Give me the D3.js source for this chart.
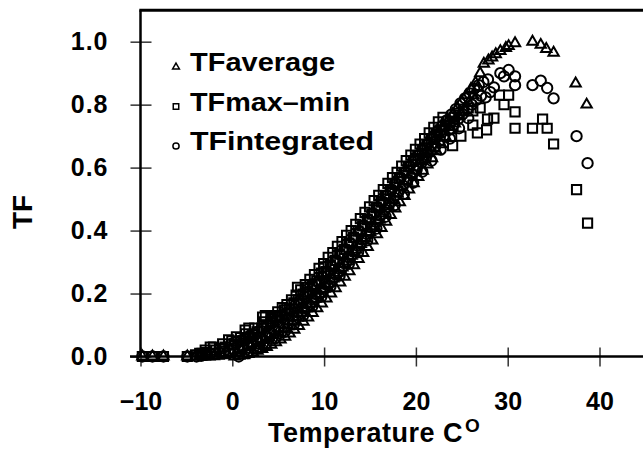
<!DOCTYPE html>
<html>
<head>
<meta charset="utf-8">
<script src="https://cdn.jsdelivr.net/npm/d3@7"></script>
<style>
  body { margin: 0; background: #fff; }
  svg { display: block; font-family: "Liberation Sans", Arial, Helvetica, sans-serif; font-weight: bold; }
</style>
</head>
<body>
<svg id="chart" width="643" height="449"></svg>
<script>
// readings as [temperature, TF]
const tfAverage = [
  [-9.8,0],[-8.7,0],[-7.5,0],[-4.9,0],
  [-4.0,0],[-3.5,0],[-3.0,0],[-2.5,0],[-2.0,0.001],[-1.5,0.002],[-1.0,0.004],[-0.5,0.006],
  [0.0,0.01],[0.5,0.013],[1.0,0.018],[1.5,0.022],[2.0,0.03],[2.5,0.036],[3.0,0.044],[3.5,0.052],
  [4.0,0.06],[4.5,0.068],[5.0,0.078],[5.5,0.088],[6.0,0.1],[6.5,0.112],[7.0,0.125],[7.5,0.139],
  [8.0,0.153],[8.5,0.168],[9.0,0.183],[9.5,0.199],[10.0,0.215],[10.5,0.232],[11.0,0.248],[11.5,0.266],
  [12.0,0.283],[12.5,0.302],[13.0,0.32],[13.5,0.339],[14.0,0.357],[14.5,0.376],[15.0,0.395],[15.5,0.414],
  [16.0,0.434],[16.5,0.455],[17.0,0.476],[17.5,0.496],[18.0,0.517],[18.5,0.537],[19.0,0.558],[19.5,0.578],
  [20.0,0.6],[20.5,0.621],[21.0,0.643],[21.5,0.664],[22.0,0.686],[22.5,0.707],[23.0,0.728],[23.5,0.749],
  [24.0,0.77],[24.5,0.79],[25.0,0.81],[25.5,0.83],[26.0,0.85],[26.5,0.87],[27.0,0.9],[27.4,0.93],
  [27.9,0.94],[28.3,0.95],[28.7,0.96],[29.2,0.97],[29.8,0.98],[30.1,0.986],[30.8,0.995],
  [32.7,1.0],[33.6,0.99],[34.2,0.977],[35.0,0.965],[37.4,0.867],[38.6,0.80],
  [0.25,0],[0.75,0.002],[1.25,0.004],[1.75,0.008],[2.25,0.012],[2.75,0.018],[3.25,0.024],[3.75,0.03],
  [4.25,0.037],[4.75,0.045],[5.25,0.054],[5.75,0.063],[6.25,0.073],[6.75,0.085],[7.25,0.097],[7.75,0.11],
  [8.25,0.124],[8.75,0.138],[9.25,0.153],[9.75,0.168],[10.25,0.184],[10.75,0.2],[11.25,0.217],[11.75,0.235],
  [12.25,0.253],[12.75,0.271],[13.25,0.29],[13.75,0.31],[14.25,0.329],[14.75,0.348],[15.25,0.368],[15.75,0.388],
  [16.25,0.408],[16.75,0.428],[17.25,0.449],[17.75,0.47],[18.25,0.49],[18.75,0.51],[19.25,0.53],[19.75,0.55],
  [20.25,0.57],[20.75,0.59],[21.25,0.61],[21.75,0.63],[22.25,0.652],[22.75,0.674],[23.25,0.696],[23.75,0.718],
  [24.25,0.74],[24.75,0.762],[25.25,0.784],[25.75,0.806],[26.25,0.83],[26.75,0.855]
];

const tfMaxMin = [
  [-9.8,0],[-8.7,0],[-7.5,0],[-4.9,0],
  [-4.0,0.005],[-3.3,0.01],[-2.8,0.012],[-2.4,0.03],[-1.8,0.02],[-1.3,0.025],[-0.8,0.03],[-0.4,0.053],
  [0.2,0.038],[0.9,0.06],[1.2,0.05],[1.4,0.084],[1.7,0.058],[1.8,0.09],[2.2,0.068],[2.7,0.078],
  [3.2,0.09],[3.3,0.125],[3.6,0.13],[3.7,0.1],[4.2,0.112],[4.2,0.12],[4.7,0.125],[4.9,0.125],
  [5.2,0.13],[5.7,0.148],[6.2,0.15],[6.7,0.17],[7.1,0.22],[7.2,0.18],[7.7,0.198],[8.2,0.205],[8.2,0.22],
  [8.7,0.225],[9.2,0.24],[9.7,0.265],[10.0,0.285],[10.2,0.27],[10.7,0.29],[11.2,0.305],[11.7,0.325],
  [12.2,0.34],[12.7,0.36],[13.2,0.378],[13.7,0.398],[14.2,0.415],[14.7,0.435],[15.2,0.452],[15.7,0.472],
  [16.2,0.49],[16.7,0.51],[17.2,0.528],[17.7,0.547],[18.2,0.565],[18.7,0.584],[19.2,0.602],[19.7,0.62],
  [20.2,0.638],[20.7,0.655],[21.2,0.672],[21.7,0.69],[22.2,0.705],[22.7,0.72],[23.2,0.735],[23.7,0.748],
  [24.0,0.67],[24.2,0.76],[24.7,0.772],[24.9,0.70],[25.2,0.78],[25.7,0.79],[26.2,0.735],[26.2,0.78],
  [26.7,0.71],[27.0,0.79],[27.7,0.72],[27.8,0.754],[28.5,0.757],[29.1,0.83],[29.6,0.80],[30.1,0.83],
  [30.8,0.777],[30.8,0.725],[32.7,0.725],[33.8,0.754],[34.3,0.725],[35.0,0.675],[37.5,0.53],[38.7,0.424],
  [-3.55,0.01],[-2.95,0.02],[-2.05,0.03],[-1.05,0.04],[-0.05,0.05],[0.45,0.062],[1.45,0.072],[2.45,0.09],
  [3.45,0.11],[4.45,0.13],[4.95,0.142],[5.45,0.155],[5.95,0.165],[6.45,0.18],[6.95,0.195],[7.45,0.212],
  [7.95,0.228],[8.45,0.245],[8.95,0.26],[9.45,0.28],[9.95,0.295],[10.45,0.315],[10.95,0.33],[11.45,0.35],
  [11.95,0.365],[12.45,0.385],[12.95,0.4],[13.45,0.42],[13.95,0.438],[14.45,0.458],[14.95,0.475],[15.45,0.495],
  [15.95,0.512],[16.45,0.53],[16.95,0.55],[17.45,0.568],[17.95,0.585],[18.45,0.605],[18.95,0.622],[19.45,0.64],
  [19.95,0.658],[20.45,0.675],[20.95,0.692],[21.45,0.71],[21.95,0.728],[22.45,0.745],[22.95,0.76],
  [1.05,0.034],[2.05,0.046],[3.05,0.06],[4.05,0.076],[5.05,0.094],[6.05,0.116],[7.05,0.141],[8.05,0.17],
  [9.05,0.2],[10.05,0.232],[11.05,0.265],[12.05,0.3],[13.05,0.337],[14.05,0.374],[15.05,0.412],[16.05,0.449],
  [17.05,0.487],[18.05,0.524],[19.05,0.56],[20.05,0.595],[21.05,0.63],[22.05,0.665],[23.05,0.7],[24.05,0.734]
];

const tfIntegrated = [
  [-9.8,0],[-8.7,0],[-7.5,0],[-4.9,0],
  [-3.9,0],[-3.4,0.002],[-2.9,0.005],[-2.4,0.008],[-1.9,0.01],[-1.4,0.013],[-0.9,0.017],[-0.4,0.02],
  [0.1,0.025],[0.6,0.03],[1.1,0.035],[1.6,0.04],[2.1,0.047],[2.6,0.053],[3.1,0.06],[3.6,0.068],
  [4.1,0.076],[4.6,0.085],[5.1,0.094],[5.6,0.104],[6.1,0.116],[6.6,0.128],[7.1,0.14],[7.6,0.154],
  [8.1,0.168],[8.6,0.182],[9.1,0.198],[9.6,0.214],[10.1,0.23],[10.6,0.246],[11.1,0.262],[11.6,0.28],
  [12.1,0.297],[12.6,0.316],[13.1,0.334],[13.6,0.353],[14.1,0.371],[14.6,0.39],[15.1,0.41],[15.6,0.428],
  [16.1,0.448],[16.6,0.467],[17.1,0.486],[17.6,0.505],[18.1,0.524],[18.6,0.543],[19.1,0.561],[19.6,0.579],
  [20.1,0.597],[20.6,0.615],[21.1,0.633],[21.6,0.651],[22.1,0.668],[22.6,0.686],[23.1,0.703],[23.6,0.72],
  [24.1,0.737],[24.6,0.754],[25.1,0.77],[25.6,0.786],[26.1,0.8],[26.6,0.815],[27.1,0.828],[27.6,0.823],
  [28.1,0.84],[28.5,0.855],[29.2,0.90],[29.6,0.89],[30.1,0.91],[30.8,0.89],[30.8,0.862],
  [32.7,0.862],[33.6,0.876],[34.3,0.853],[35.0,0.82],[37.5,0.70],[38.7,0.614],
  [-0.15,0.04],[0.35,0.045],[0.85,0.05],[1.35,0.058],[1.85,0.065],[2.35,0.072],[2.85,0.08],[3.35,0.088],
  [3.85,0.097],[4.35,0.106],[4.85,0.116],[5.35,0.127],[5.85,0.138],[6.35,0.15],[6.85,0.162],[7.35,0.176],
  [7.85,0.19],[8.35,0.205],[8.85,0.22],[9.35,0.236],[9.85,0.252],[10.35,0.269],[10.85,0.286],[11.35,0.304],
  [11.85,0.322],[12.35,0.34],[12.85,0.359],[13.35,0.378],[13.85,0.397],[14.35,0.416],[14.85,0.435],[15.35,0.455],
  [15.85,0.474],[16.35,0.493],[16.85,0.512],[17.35,0.531],[17.85,0.55],[18.35,0.568],[18.85,0.587],[19.35,0.605],
  [19.85,0.623],[20.35,0.641],[20.85,0.66],[21.35,0.678],[21.85,0.696],[22.35,0.714],[22.85,0.732],[23.35,0.75],
  [23.85,0.768],[24.35,0.786],[24.85,0.804],[25.35,0.82],[25.85,0.836],[26.35,0.85],[26.85,0.862],[27.35,0.872],
  [27.85,0.88],
  [0.7,0.0],[1.7,0.011],[2.7,0.025],[3.7,0.04],[4.7,0.058],[5.7,0.078],[6.7,0.102],[7.7,0.129],
  [8.7,0.159],[9.7,0.19],[10.7,0.223],[11.7,0.257],[12.7,0.294],[13.7,0.331],[14.7,0.369],[15.7,0.406],
  [16.7,0.444],[17.7,0.481],[18.7,0.517],[19.7,0.552],[20.7,0.587],[21.7,0.622],[22.7,0.657],[23.7,0.692],
  [24.7,0.725],[25.7,0.757]
];

const xTicks = [-10, 0, 10, 20, 30, 40];
const yTicks = [0, 0.2, 0.4, 0.6, 0.8, 1.0];
const legendLabels = ['TFaverage', 'TFmax\u2013min', 'TFintegrated'];

const svg = d3.select('#chart');

const x = d3.scaleLinear().domain([-10, 50]).range([140.5, 691.3]);
const y = d3.scaleLinear().domain([0, 1.1]).range([356.5, 10.2]);

// y axis, ticks cross the line
const gy = svg.append('g')
  .attr('transform', 'translate(' + x(-10) + ',0)')
  .call(d3.axisLeft(y).tickValues(yTicks).tickFormat(d3.format('.1f')).tickSize(10).tickPadding(22));
gy.select('.domain').remove();
gy.selectAll('.tick line').attr('x1', 11).attr('stroke', '#333').attr('stroke-width', 1.5);
gy.selectAll('.tick text').attr('font-size', 25).attr('dy', '0.3em')
  .attr('fill', '#000').attr('font-family', null).attr('letter-spacing', 1);

// x axis
const gx = svg.append('g')
  .attr('transform', 'translate(0,' + y(0) + ')')
  .call(d3.axisBottom(x).tickValues(xTicks).tickSize(10).tickPadding(26));
gx.select('.domain').remove();
gx.selectAll('.tick line').attr('y1', -9).attr('stroke', '#333').attr('stroke-width', 1.5);
gx.selectAll('.tick text').attr('font-size', 25).attr('fill', '#000').attr('font-family', null);

// frame lines
svg.append('line').attr('x1', 130).attr('x2', 643).attr('y1', y(0)).attr('y2', y(0))
  .attr('stroke', '#000').attr('stroke-width', 2.5);
svg.append('line').attr('x1', x(-10)).attr('x2', x(-10)).attr('y1', y(1.1)).attr('y2', y(0))
  .attr('stroke', '#000').attr('stroke-width', 2.5);
svg.append('line').attr('x1', x(-10) - 1.2).attr('x2', 643).attr('y1', y(1.1)).attr('y2', y(1.1))
  .attr('stroke', '#000').attr('stroke-width', 3);

// markers
const shapes = [
  { data: tfAverage, type: d3.symbolTriangle, size: 46 },
  { data: tfMaxMin, type: d3.symbolSquare, size: 85 },
  { data: tfIntegrated, type: d3.symbolCircle, size: 84 }
];

shapes.forEach(s => {
  svg.append('g').selectAll('path')
    .data(s.data)
    .join('path')
      .attr('transform', d => 'translate(' + x(d[0]) + ',' + y(d[1]) + ')')
      .attr('d', d3.symbol().type(s.type).size(s.size))
      .attr('fill', 'none')
      .attr('stroke', '#000')
      .attr('stroke-width', 2);
});

// legend
const legendWidths = [145, 160, 184];
const legend = svg.append('g');
legendLabels.forEach((label, i) => {
  const by = 71 + i * 39.5;
  legend.append('path')
    .attr('transform', 'translate(176,' + (by - 4) + ')')
    .attr('d', d3.symbol().type(shapes[i].type).size(i === 0 ? 20 : 30))
    .attr('fill', 'none').attr('stroke', '#000').attr('stroke-width', 1.5);
  legend.append('text')
    .attr('x', 190).attr('y', by)
    .attr('font-size', 25.5)
    .attr('textLength', legendWidths[i]).attr('lengthAdjust', 'spacingAndGlyphs')
    .text(label);
});

// axis titles
const xt = svg.append('text').attr('x', 268).attr('y', 442).attr('font-size', 27);
xt.append('tspan').attr('letter-spacing', 0.5).text('Temperature C');
xt.append('tspan').attr('dx', 2).attr('dy', -10).attr('font-size', 19).text('O');

svg.append('text')
  .attr('transform', 'translate(32,212) rotate(-90)')
  .attr('text-anchor', 'middle')
  .attr('font-size', 28)
  .text('TF');
</script>
</body>
</html>
